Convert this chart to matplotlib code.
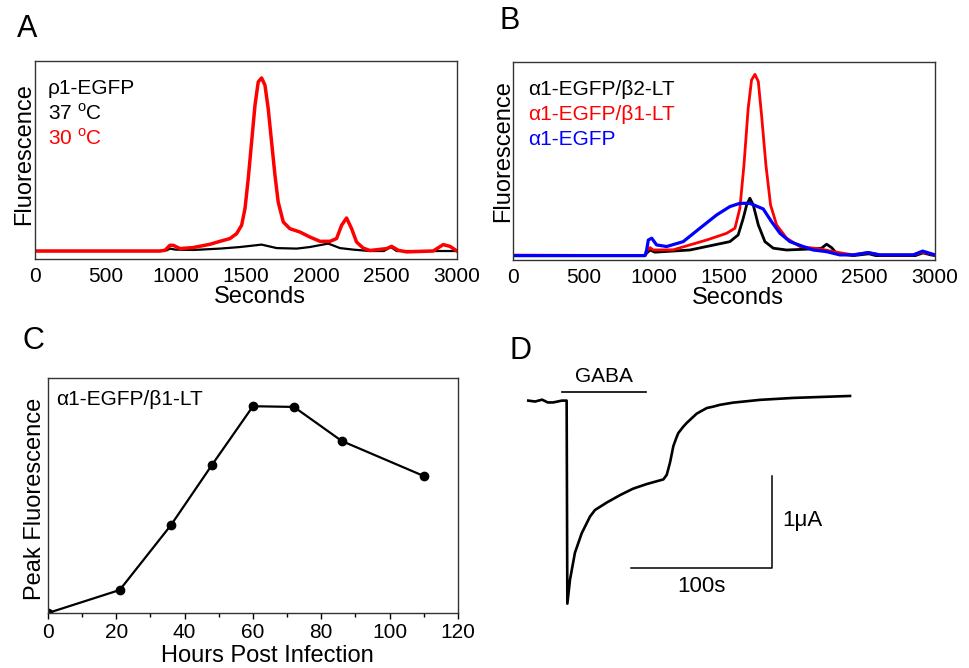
import matplotlib
matplotlib.use('Agg')
import matplotlib.pyplot as plt

plt.rcParams['font.family'] = ['Liberation Sans', 'DejaVu Sans']
plt.rcParams['mathtext.fontset'] = 'custom'
plt.rcParams['mathtext.rm'] = 'Liberation Sans'

# ---- panel A : rho1-EGFP, 37 vs 30 C (seconds, arbitrary fluorescence)
a_t_37 = [0, 888, 940, 959, 1000, 1125, 1315, 1457, 1611, 1718, 1860, 1954,
          2085, 2168, 2263, 2381, 2480, 2530, 2571, 3000]
a_f_37 = [0, 0, 0.5, 1.4, 0.8, 0.6, 1.4, 2.3, 3.7, 1.7, 1.4, 2.3,
          4.3, 1.7, 0.8, 0, 0, 2.3, 0, 0]
a_t_30 = [0, 888, 924, 959, 983, 1031, 1125, 1244, 1315, 1386, 1433, 1469,
          1493, 1516, 1540, 1564, 1587, 1611, 1635, 1658, 1682, 1706, 1729,
          1765, 1812, 1883, 1954, 2026, 2097, 2144, 2180, 2215, 2251, 2286,
          2333, 2381, 2500, 2535, 2583, 2642, 2831, 2902, 2950, 3000]
a_f_30 = [0, 0, 0.4, 3.3, 3.3, 1.4, 2.0, 3.9, 5.6, 7.2, 10.0, 14.9,
          24.5, 41.8, 63, 84.2, 97.7, 100, 95.8, 82.3, 63, 43.8, 28.3,
          16.8, 12.9, 11, 8.1, 5.6, 5.6, 7.2, 14.9, 19.1, 12.9, 5.2,
          1.7, 0.3, 1.4, 2.7, 0.4, -0.5, 0, 3.7, 2.7, 0]

# ---- panel B : alpha1 constructs
b_t_b2 = [0, 938, 950, 974, 1009, 1258, 1542, 1601, 1637, 1661, 1684, 1708,
          1744, 1791, 1850, 1945, 2134, 2194, 2229, 2265, 2300, 2420, 2530,
          2580, 2860, 2915, 2970, 3000]
b_f_b2 = [0, 0, 1.3, 3.1, 1.9, 3.1, 7.7, 11.4, 20.6, 27.9, 31.6, 27.9,
          16.9, 7.7, 4.1, 3.1, 3.7, 4.1, 6.3, 4.4, 1.3, 0, 1.0,
          0, 0, 1.5, 0.4, 0]
b_t_b1 = [0, 938, 950, 974, 997, 1139, 1377, 1519, 1578, 1613, 1642, 1672,
          1696, 1720, 1744, 1767, 1798, 1831, 1874, 1945, 2040, 2182, 2277,
          2419, 2525, 2608, 2845, 2912, 3000]
b_f_b1 = [0.3, 0, 2.2, 4.4, 3.1, 3.2, 8.6, 12.3, 15.1, 26.1, 49.9, 81.1,
          96.7, 99.8, 95.8, 77.4, 49.9, 27.9, 16.9, 9.6, 5.0, 3.7, 2.2,
          0.4, 1.7, 0.4, 0.4, 1.9, 0.4]
b_t_a1 = [0, 938, 950, 962, 986, 1021, 1092, 1210, 1329, 1448, 1542, 1613,
          1684, 1779, 1838, 1898, 1969, 2063, 2134, 2229, 2324, 2419, 2525,
          2608, 2845, 2912, 3000]
b_f_a1 = [0, 0, 3.0, 8.6, 9.6, 5.9, 5.0, 7.7, 15.1, 22.4, 27, 28.8,
          28.8, 25.7, 18.7, 12.3, 7.7, 5.0, 3.1, 2.2, 0.4, 0.4, 1.7,
          0.4, 0.4, 2.5, 0.4]

# ---- panel C : peak fluorescence vs hours post infection
c_hours = [0, 21, 36, 48, 60, 72, 86, 110]
c_peak = [0, 0.098, 0.374, 0.63, 0.88, 0.877, 0.732, 0.583]

# ---- panel D : GABA current trace (s, uA)
d_t = [0.2, 5, 10, 14, 17.7, 21, 24, 26.2, 27.4, 27.9, 29.8, 33.3, 38.1, 44.0,
       47.5, 55.8, 65.2, 74.5, 84.2, 96.0, 98.4, 100.7, 103.1, 105.5, 106.6,
       110.2, 112.6, 119.7, 126.8, 131.4, 136.0, 145.4, 164.6, 188.2, 228.4]
d_i = [0, -0.01, 0.01, -0.02, -0.02, -0.01, 0, 0, 0, -2.19, -1.93, -1.64,
       -1.43, -1.25, -1.18, -1.10, -1.02, -0.95, -0.90, -0.85, -0.80, -0.67,
       -0.49, -0.39, -0.35, -0.28, -0.24, -0.14, -0.08, -0.065, -0.046,
       -0.022, 0.008, 0.029, 0.05]
gaba_on, gaba_off = 24, 84

fig = plt.figure(figsize=(9.69, 6.68), dpi=100)

axA = fig.add_axes([0.0361, 0.6123, 0.4355, 0.2964])
axB = fig.add_axes([0.5294, 0.6108, 0.4355, 0.2964])
axC = fig.add_axes([0.0495, 0.0823, 0.4231, 0.3518])
axD = fig.add_axes([0.516, 0.0569, 0.4644, 0.4042])

# A
axA.plot(a_t_37, a_f_37, color='black', lw=1.6)
axA.plot(a_t_30, a_f_30, color='red', lw=2.5)
axA.set_ylim(-4.6, 109.8)
axA.text(0.03, 0.86, u'\u03c11-EGFP', transform=axA.transAxes, fontsize=15, va='center')
axA.text(0.03, 0.735, r'37 $^{\mathrm{o}}$C', transform=axA.transAxes, fontsize=15, va='center')
axA.text(0.03, 0.61, r'30 $^{\mathrm{o}}$C', transform=axA.transAxes, fontsize=15, va='center', color='red')

# B
axB.plot(b_t_b2, b_f_b2, color='black', lw=2)
axB.plot(b_t_b1, b_f_b1, color='red', lw=2)
axB.plot(b_t_a1, b_f_a1, color='blue', lw=2.3)
axB.set_ylim(-2.4, 106.6)
axB.text(0.036, 0.86, u'\u03b11-EGFP/\u03b22-LT', transform=axB.transAxes, fontsize=15, va='center')
axB.text(0.036, 0.735, u'\u03b11-EGFP/\u03b21-LT', transform=axB.transAxes, fontsize=15, va='center', color='red')
axB.text(0.036, 0.61, u'\u03b11-EGFP', transform=axB.transAxes, fontsize=15, va='center', color='blue')

for ax in (axA, axB):
    ax.set_xlim(0, 3000)
    ax.set_xticks([0, 500, 1000, 1500, 2000, 2500, 3000])
    ax.set_yticks([])
    ax.tick_params(axis='x', length=0, pad=6, labelsize=15)
    ax.set_xlabel('Seconds', fontsize=17)
    ax.xaxis.set_label_coords(0.533, -0.137)
    ax.set_ylabel('Fluorescence', fontsize=17)
    for s in ax.spines.values():
        s.set_linewidth(1.0)
        s.set_color('#333333')
axA.yaxis.set_label_coords(0.0, 0.53)
axB.yaxis.set_label_coords(0.003, 0.55)

# C
axC.plot(c_hours, c_peak, color='black', lw=1.6, marker='o', ms=6)
axC.set_xlim(0, 120)
axC.set_ylim(0, 1)
axC.set_xticks(range(0, 121, 20))
axC.set_xticks(range(10, 120, 20), minor=True)
axC.set_yticks([])
axC.tick_params(axis='x', which='major', length=4, width=1, pad=3, labelsize=15)
axC.tick_params(axis='x', which='minor', length=3, width=1)
axC.set_xlabel('Hours Post Infection', fontsize=17)
axC.xaxis.set_label_coords(0.535, -0.135)
axC.set_ylabel('Peak Fluorescence', fontsize=17)
axC.yaxis.set_label_coords(-0.006, 0.485)
axC.text(0.02, 0.91, u'\u03b11-EGFP/\u03b21-LT', transform=axC.transAxes, fontsize=15, va='center')
for s in axC.spines.values():
    s.set_linewidth(1.0)
    s.set_color('#333333')

# D
axD.plot(d_t, d_i, color='black', lw=1.9)
axD.plot([gaba_on, gaba_off], [0.094, 0.094], color='black', lw=1.2)
axD.text((gaba_on + gaba_off) / 2, 0.255, 'GABA', fontsize=15, ha='center', va='center')
axD.plot([73, 173, 173], [-1.81, -1.81, -0.81], color='black', lw=1.1)
axD.text(123, -2.0, '100s', fontsize=16, ha='center', va='center')
axD.text(180, -1.29, u'1\u03bcA', fontsize=16, ha='left', va='center')
axD.set_xlim(-19.86, 299.3)
axD.set_ylim(-2.474, 0.438)
axD.axis('off')

# panel letters
fig.text(17 / 969, 1 - 29 / 668, 'A', fontsize=22, va='center')
fig.text(499 / 969, 1 - 21 / 668, 'B', fontsize=22, va='center')
fig.text(23 / 969, 1 - 341 / 668, 'C', fontsize=22, va='center')
fig.text(510 / 969, 1 - 351 / 668, 'D', fontsize=22, va='center')

fig.savefig('out.png', dpi=100)
